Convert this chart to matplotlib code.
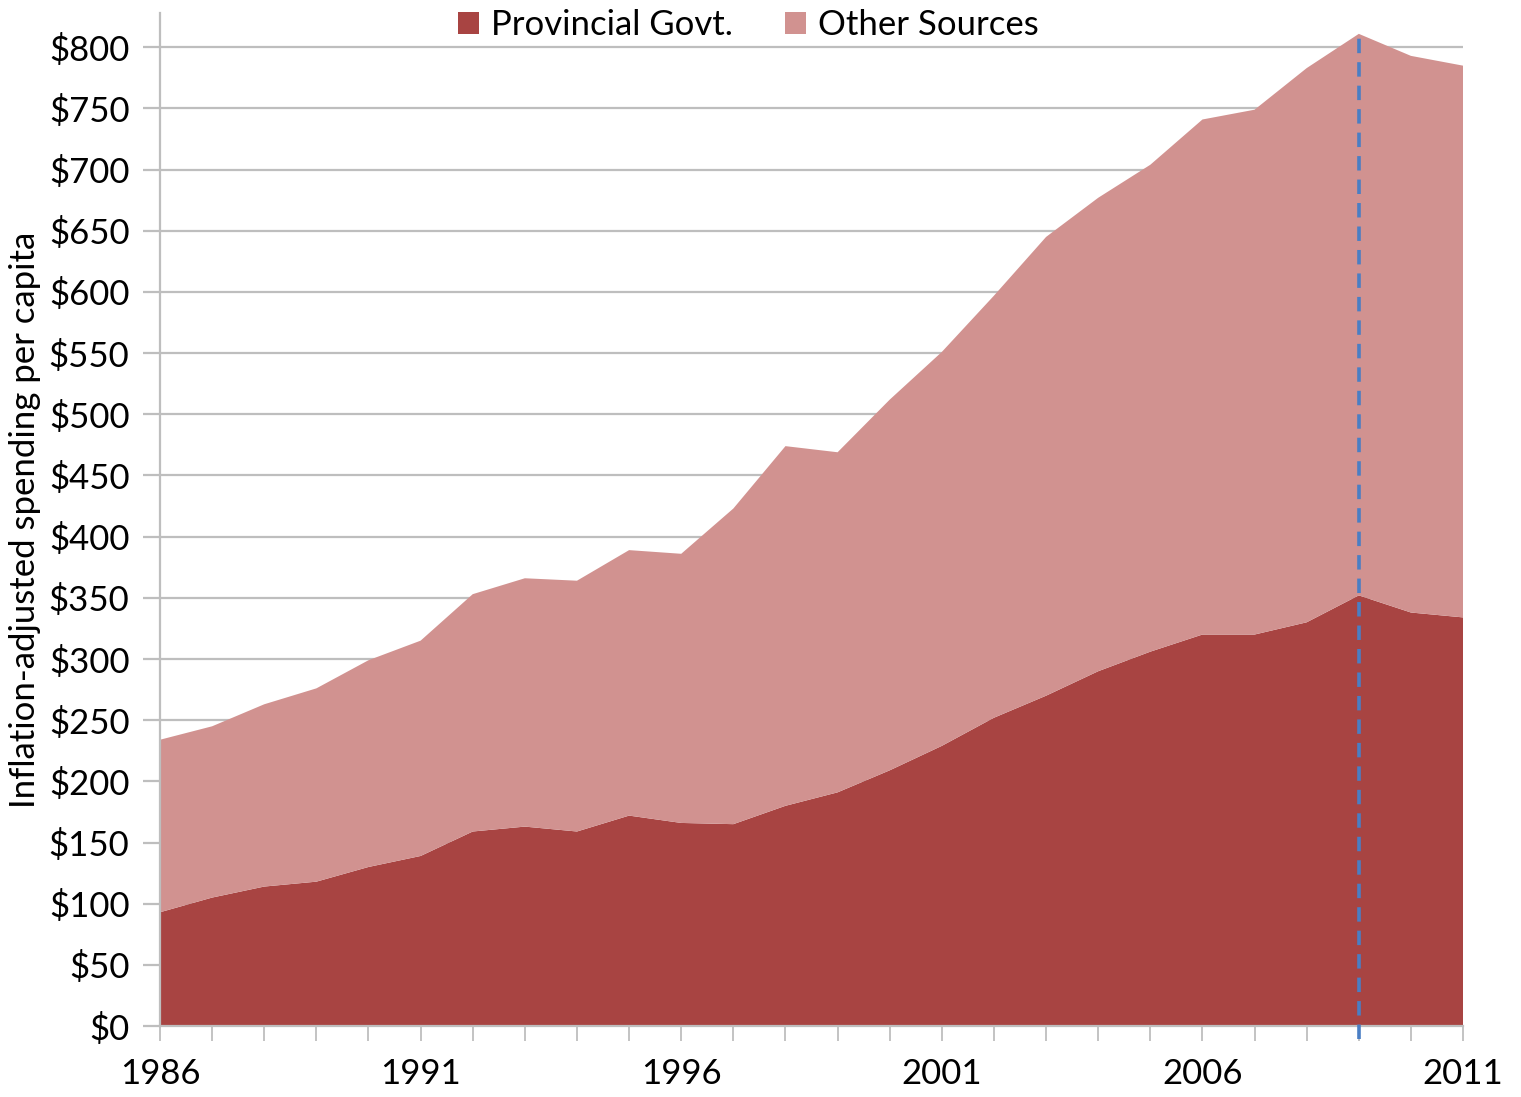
import matplotlib
matplotlib.use("Agg")
import matplotlib.pyplot as plt
from matplotlib.patches import Patch
from matplotlib.ticker import FixedLocator
import numpy as np

plt.rcParams['font.family'] = ['Lato', 'DejaVu Sans']

years = list(range(1986, 2012))
provincial = [93, 105, 114, 118, 130, 139, 159, 163, 159, 172, 166, 165, 180, 191,
              209, 229, 252, 270, 290, 306, 320, 320, 330, 352, 338, 334]
total = [234, 245, 263, 276, 299, 315, 353, 366, 364, 389, 386, 423, 474, 469,
         512, 551, 597, 645, 677, 704, 741, 749, 783, 811, 793, 785]
other = [t - p for t, p in zip(total, provincial)]
series_labels = ["Provincial Govt.", "Other Sources"]
marker_year = 2009
ytick_values = list(range(0, 801, 50))
ytick_labels = [f"${v}" for v in ytick_values]
xtick_values = [1986, 1991, 1996, 2001, 2006, 2011]

c_prov = "#A84442"
c_other = "#D19290"
c_grid = "#BEBEBE"
FS = 25

fig = plt.figure(figsize=(15.21, 10.97), dpi=100)
ax = fig.add_axes([0.1052, 0.0647, 0.9619 - 0.1052, 0.9881 - 0.0647])

x = np.array(years)
ax.stackplot(x, provincial, other, colors=[c_prov, c_other], linewidth=0, zorder=2)

ax.set_xlim(years[0], years[-1])
ax.set_ylim(0, 828)
ax.set_yticks(ytick_values)
ax.set_yticklabels(ytick_labels, fontsize=FS)
ax.set_xticks(xtick_values)
ax.set_xticklabels([str(v) for v in xtick_values], fontsize=FS)
ax.xaxis.set_minor_locator(FixedLocator(years))

ax.yaxis.grid(True, color=c_grid, linewidth=1.6, zorder=0)
ax.set_axisbelow(True)
for s in ["top", "right"]:
    ax.spines[s].set_visible(False)
for s in ["left", "bottom"]:
    ax.spines[s].set_color(c_grid)
    ax.spines[s].set_linewidth(1.6)
ax.spines["bottom"].set_zorder(3)

ax.tick_params(axis='y', direction='out', length=12, width=1.6, color=c_grid, pad=10, labelcolor='black')
ax.tick_params(axis='x', which='both', direction='out', length=11, width=1.3, color=c_grid, pad=12, labelcolor='black')

ax.set_ylabel("Inflation-adjusted spending per capita", fontsize=FS)
ax.yaxis.set_label_coords(-0.091, 0.5)

idx = years.index(marker_year)
ax.axvline(marker_year, ymin=-0.013, ymax=total[idx] / 828, color="#4A7EC4",
           linestyle=(0, (4, 2.5)), linewidth=2.6, clip_on=False, zorder=4)

handles = [Patch(facecolor=c_prov, edgecolor='none'), Patch(facecolor=c_other, edgecolor='none')]
fig.legend(handles, series_labels, loc='center', bbox_to_anchor=(0.492, 0.977), ncol=2,
           frameon=False, fontsize=FS, handlelength=0.6, handleheight=0.6,
           handletextpad=0.35, columnspacing=1.5)

fig.savefig("out.png", dpi=100)
